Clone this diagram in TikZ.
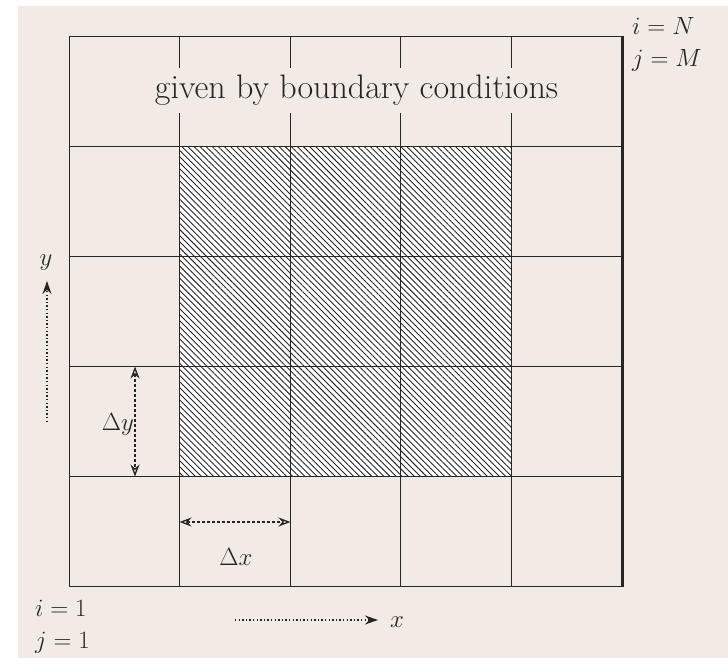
\documentclass[tikz,border=0pt]{standalone}
\usetikzlibrary{patterns.meta,arrows.meta}
\definecolor{bg}{HTML}{F2EBE5}
\definecolor{ink}{HTML}{262626}
\begin{document}
\begin{tikzpicture}[x=1pt,y=-1pt,
  font=\fontsize{34}{36}\selectfont,
  gridline/.style={ink, line width=1.8pt},
  dimarrow/.style={ink, line width=1.3pt, dash pattern=on 3pt off 2pt,
    {Stealth[open,length=12pt,width=9pt]}-{Stealth[open,length=12pt,width=9pt]}},
  axisarrow/.style={ink, line width=1.5pt, dash pattern=on 1.4pt off 2.2pt,
    -{Stealth[length=13pt,width=9pt]}},
  lbl/.style={text=ink, inner sep=0pt}]
\useasboundingbox (0,0) rectangle (728,658);
\fill[white] (0,0) rectangle (728,658);
\fill[bg] (18,6) rectangle (728,658);
% hatched interior
\fill[white] (179.5,146.5) rectangle (511.5,476.5);
\fill[pattern={Lines[angle=-45,distance=4.3pt,line width=0.9pt]}, pattern color=ink]
  (179.5,146.5) rectangle (511.5,476.5);
% grid
\foreach \x in {69.5,179.5,290.5,400.5,511.5,622}
  \draw[gridline] (\x,36.5) -- (\x,586.5);
\foreach \y in {36.5,146.5,256.5,366.5,476.5,586.5}
  \draw[gridline] (69.5,\y) -- (622,\y);
\draw[ink, line width=3pt] (622,35.6) -- (622,587.4);
% boundary text
\node[fill=bg, text=ink, minimum height=45pt, inner xsep=6pt] (bc) at (356.5,90.5)
  {given by boundary conditions};
% corner labels
\node[lbl, anchor=base west] (iN) at (632,35) {$i=N$};
\node[lbl, anchor=base west] (jM) at (632,67) {$j=M$};
\node[lbl, anchor=base west] (i1) at (35,616) {$i=1$};
\node[lbl, anchor=base west] (j1) at (35,648) {$j=1$};
% delta y
\coordinate (dyA) at (135,366.5);
\coordinate (dyB) at (135,476.5);
\draw[dimarrow] (dyA) -- (dyB);
\node[lbl, anchor=base east] (dyl) at (134,430) {$\Delta y$};
% delta x
\coordinate (dxA) at (179.5,522);
\coordinate (dxB) at (290.5,522);
\draw[dimarrow] (dxA) -- (dxB);
\node[lbl, anchor=base] (dxl) at (236,565) {$\Delta x$};
% axes
\coordinate (xa) at (235,620);
\coordinate (xb) at (378,620);
\draw[axisarrow] (xa) -- (xb);
\node[lbl, anchor=base west] (xl) at (390,627) {$x$};
\coordinate (ya) at (47,422);
\coordinate (yb) at (47,281);
\draw[axisarrow] (ya) -- (yb);
\node[lbl, anchor=base] (yl) at (46,265) {$y$};
\end{tikzpicture}
\end{document}
